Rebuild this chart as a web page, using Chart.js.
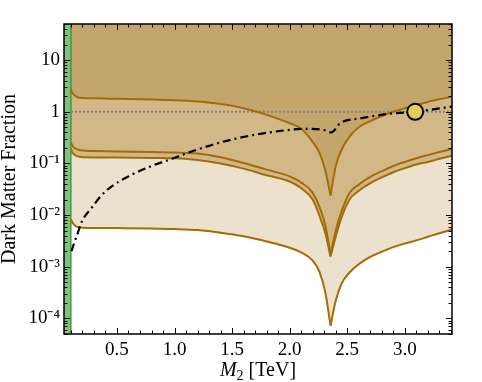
<!DOCTYPE html>
<html><head><meta charset="utf-8">
<script src="https://cdn.jsdelivr.net/npm/chart.js@4"></script>
<style>html,body{margin:0;padding:0;background:#fff}#wrap{width:482px;height:382px;position:relative}</style>
</head><body><div id="wrap"><canvas id="c"></canvas></div>
<script>
// ---- data ----
const massGrid = [0.1, 0.12, 0.15, 0.2, 0.3, 0.5, 0.8, 1.0, 1.2, 1.4, 1.6, 1.8, 2.0, 2.1, 2.2, 2.26, 2.31, 2.355, 2.4, 2.45, 2.52, 2.6, 2.7, 2.8, 2.9, 3.0, 3.1, 3.2, 3.3, 3.41];
const curveTop = [2.66, 2.22, 1.95, 1.84, 1.82, 1.78, 1.72, 1.68, 1.58, 1.41, 1.17, 0.87, 0.60, 0.47, 0.26, 0.158, 0.072, 0.024, 0.089, 0.182, 0.33, 0.50, 0.66, 0.83, 1.0, 1.17, 1.35, 1.55, 1.74, 1.95];
const curveUpper = [0.251, 0.21, 0.19, 0.178, 0.174, 0.170, 0.166, 0.162, 0.155, 0.132, 0.102, 0.0759, 0.0562, 0.0427, 0.0269, 0.0141, 0.0063, 0.00174, 0.0050, 0.0117, 0.0269, 0.0389, 0.0550, 0.0708, 0.0891, 0.107, 0.126, 0.145, 0.166, 0.191];
const curveLower = [0.186, 0.155, 0.14, 0.132, 0.131, 0.130, 0.128, 0.126, 0.117, 0.100, 0.0794, 0.0589, 0.0447, 0.0331, 0.0200, 0.00955, 0.00447, 0.00158, 0.00380, 0.00891, 0.0200, 0.0295, 0.0417, 0.0537, 0.0676, 0.0813, 0.0955, 0.107, 0.123, 0.141];
const curveBottom = [0.0083, 0.0068, 0.0060, 0.0057, 0.00565, 0.0056, 0.0055, 0.00537, 0.00513, 0.00457, 0.00389, 0.00309, 0.00234, 0.00191, 0.00132, 0.00079, 0.000316, 0.0000724, 0.000219, 0.000468, 0.000776, 0.00112, 0.00155, 0.00195, 0.00240, 0.00282, 0.00324, 0.00380, 0.00447, 0.00525];
const resonanceMass = 2.355;
const relicMass = [0.105, 0.124, 0.15, 0.196, 0.283, 0.36, 0.457, 0.6, 0.775, 0.99, 1.16, 1.42, 1.71, 2.0, 2.12, 2.29, 2.36, 2.44, 2.61, 2.9, 3.09, 3.41];
const relicFraction = [0.0020, 0.0027, 0.0039, 0.0076, 0.0141, 0.0234, 0.0363, 0.0562, 0.0851, 0.126, 0.174, 0.263, 0.363, 0.447, 0.468, 0.447, 0.398, 0.603, 0.741, 0.933, 1.0, 1.26];
const benchmarkMass = [3.09];
const benchmarkFraction = [1.0];
const excludedMassMax = 0.1;
const unitFraction = 1;
const xRange = [0.04, 3.41];
const yRange = [5e-5, 50];
const xTickValues = [0.5, 1.0, 1.5, 2.0, 2.5, 3.0];
const xTickLabels = ['0.5', '1.0', '1.5', '2.0', '2.5', '3.0'];
const yTickValues = [1e-4, 1e-3, 1e-2, 1e-1, 1, 10];
const yTickLabels = ['10\u207B\u2074', '10\u207B\u00B3', '10\u207B\u00B2', '10\u207B\u00B9', '1', '10'];

// ---- styles ----
const LINE = '#a26c08';
const DARK = '#c4a56c', MED = '#d2b887', LIGHT = '#ece1cd';
const SERIF = '"Liberation Serif", "Times New Roman", serif';
const xy = (xs, ys) => xs.map((x, i) => ({x, y: ys[i]}));
const tip = massGrid.indexOf(resonanceMass);
const leftPart = ys => xy(massGrid, ys).slice(0, tip + 1);
const rightPart = ys => xy(massGrid, ys).slice(tip);

const framePlugin = {
  id: 'frame',
  afterDraw(chart) {
    const {ctx, chartArea: a, scales: {x, y}} = chart;
    ctx.save();
    ctx.strokeStyle = '#000';
    ctx.lineWidth = 1;
    ctx.beginPath();
    for (let k = 1; k <= 34; k++) {
      const v = k / 10;
      if (v < xRange[0] || v > xRange[1]) continue;
      const px = Math.round(x.getPixelForValue(v)) + 0.5;
      const L = (k % 5 === 0) ? 6 : 3.5;
      ctx.moveTo(px, a.bottom); ctx.lineTo(px, a.bottom - L);
      ctx.moveTo(px, a.top); ctx.lineTo(px, a.top + L);
    }
    for (let e = -5; e <= 1; e++) {
      for (let m = 1; m <= 9; m++) {
        const v = m * Math.pow(10, e);
        if (v < yRange[0] || v > yRange[1]) continue;
        const py = Math.round(y.getPixelForValue(v)) + 0.5;
        const L = (m === 1) ? 6 : 3.5;
        ctx.moveTo(a.left, py); ctx.lineTo(a.left + L, py);
        ctx.moveTo(a.right, py); ctx.lineTo(a.right - L, py);
      }
    }
    ctx.stroke();
    ctx.lineWidth = 1.5;
    ctx.strokeRect(a.left, a.top, a.right - a.left, a.bottom - a.top);
    // x-axis title: M_2 [TeV]
    const cx = (a.left + a.right) / 2, base = 376;
    const f1 = 'italic 20px ' + SERIF, f2 = '14px ' + SERIF, f3 = '20px ' + SERIF;
    ctx.fillStyle = '#000';
    ctx.textBaseline = 'alphabetic';
    ctx.font = f1; const w1 = ctx.measureText('M').width;
    ctx.font = f2; const w2 = ctx.measureText('2').width;
    ctx.font = f3; const w3 = ctx.measureText(' [TeV]').width;
    let sx = cx - (w1 + w2 + w3) / 2;
    ctx.font = f1; ctx.fillText('M', sx, base); sx += w1;
    ctx.font = f2; ctx.fillText('2', sx, base + 4); sx += w2;
    ctx.font = f3; ctx.fillText(' [TeV]', sx, base);
    ctx.restore();
  }
};

const band = {pointRadius: 0, borderWidth: 0, showLine: true, tension: 0, order: 5};
const curve = {pointRadius: 0, borderWidth: 2, borderColor: LINE, showLine: true, cubicInterpolationMode: 'monotone', fill: false, order: 2};
const plain = {pointRadius: 0, showLine: true, tension: 0, fill: false};

new Chart(document.getElementById('c'), {
  type: 'scatter',
  data: {
    datasets: [
      // shaded bands (indices 0-3)
      {...band, data: xy(massGrid, curveTop), fill: 'end', backgroundColor: DARK},
      {...band, data: xy(massGrid, curveUpper), fill: 0, backgroundColor: MED},
      {...band, data: xy(massGrid, curveLower), fill: 1, backgroundColor: MED},
      {...band, data: xy(massGrid, curveBottom), fill: 2, backgroundColor: LIGHT},
      // contour lines, drawn on each side of the resonance
      {...curve, data: leftPart(curveTop)},
      {...curve, data: leftPart(curveUpper)},
      {...curve, data: leftPart(curveLower)},
      {...curve, data: leftPart(curveBottom)},
      {...curve, data: rightPart(curveTop)},
      {...curve, data: rightPart(curveUpper)},
      {...curve, data: rightPart(curveLower)},
      {...curve, data: rightPart(curveBottom)},
      // relic abundance line
      {...plain, data: xy(relicMass, relicFraction), borderColor: '#000', borderWidth: 2.2, borderDash: [8, 4, 2, 4], cubicInterpolationMode: 'monotone', order: 1},
      // unit fraction
      {...plain, data: [{x: excludedMassMax, y: unitFraction}, {x: xRange[1], y: unitFraction}], borderColor: '#80808a', borderWidth: 2, borderDash: [2, 2], order: 3},
      // benchmark point
      {data: xy(benchmarkMass, benchmarkFraction), pointRadius: 8, pointBackgroundColor: '#e3d05a', pointBorderColor: '#000', pointBorderWidth: 2, showLine: false, order: 0},
      // excluded strip
      {...plain, data: [{x: xRange[0], y: yRange[1]}, {x: excludedMassMax, y: yRange[1]}], borderWidth: 0, fill: 'start', backgroundColor: '#7fc27f', order: 4},
      {...plain, data: [{x: excludedMassMax, y: yRange[0]}, {x: excludedMassMax, y: yRange[1]}], borderColor: '#2a8a2a', borderWidth: 1.2, order: 4}
    ]
  },
  options: {
    responsive: true, maintainAspectRatio: false, animation: false,
    layout: {padding: {left: 0, right: 30, top: 24, bottom: 0}},
    plugins: {legend: {display: false}, tooltip: {enabled: false}, filler: {drawTime: 'beforeDatasetsDraw'}},
    scales: {
      x: {
        type: 'linear', min: xRange[0], max: xRange[1],
        afterFit(s) { s.height = 48; },
        afterBuildTicks(s) { s.ticks = xTickValues.map(v => ({value: v})); },
        ticks: {callback: (v, i) => xTickLabels[i], font: {family: SERIF, size: 19}, color: '#000', padding: 5, maxRotation: 0, autoSkip: false},
        grid: {display: false, drawTicks: false}, border: {display: false}
      },
      y: {
        type: 'logarithmic', min: yRange[0], max: yRange[1],
        afterFit(s) { s.width = 64; },
        afterBuildTicks(s) { s.ticks = yTickValues.map(v => ({value: v})); },
        ticks: {callback: (v, i) => yTickLabels[i], font: {family: SERIF, size: 19}, color: '#000', padding: 4, autoSkip: false},
        grid: {display: false, drawTicks: false}, border: {display: false},
        title: {display: true, text: 'Dark Matter Fraction', font: {family: SERIF, size: 20, lineHeight: 1}, color: '#000', padding: 0}
      }
    }
  },
  plugins: [framePlugin]
});
</script></body></html>
